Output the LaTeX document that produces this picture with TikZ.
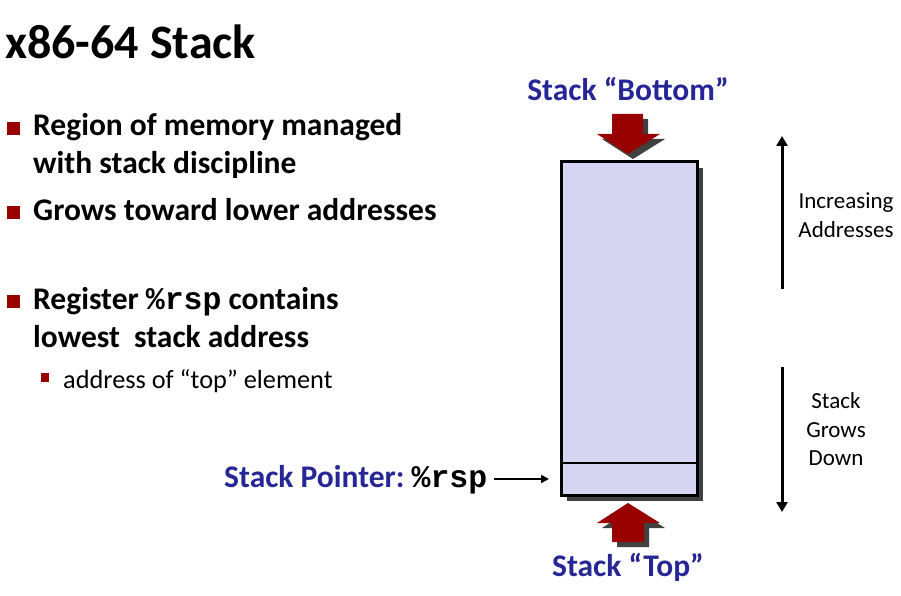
\documentclass[tikz,border=0pt]{standalone}
\usepackage{fontspec}
\setmainfont{Carlito}
\newfontfamily\mono{Liberation Mono}
\usetikzlibrary{arrows.meta}
\definecolor{bred}{RGB}{153,0,0}
\definecolor{sblue}{RGB}{38,38,150}
\definecolor{lav}{RGB}{214,214,242}
\definecolor{shd}{RGB}{64,64,64}
\begin{document}
\begin{tikzpicture}[x=1pt,y=-1pt,
  txt/.style={inner sep=0pt, anchor=base west},
  titlef/.style={txt, font=\fontsize{48}{54}\selectfont\bfseries},
  mainf/.style={txt, font=\fontsize{31.5}{36}\selectfont\bfseries},
  subf/.style={txt, font=\fontsize{26.3}{30}\selectfont},
  bluef/.style={inner sep=0pt, anchor=base, text=sblue, font=\fontsize{31.5}{36}\selectfont\bfseries},
  sidef/.style={inner sep=0pt, anchor=base, font=\fontsize{23}{28}\selectfont},
  bul/.style={fill=bred},
  stackbox/.style={draw=black, line width=3pt, fill=lav},
  shadow/.style={fill=shd},
  blockarrow/.style={fill=bred},
  longarrow/.style={line width=3pt, -{Triangle[length=10pt,width=11pt]}},
  ptrarrow/.style={line width=1.8pt, -{Triangle[length=8pt,width=8pt]}}
]
\useasboundingbox[fill=white] (0,0) rectangle (901,596);

% title
\node[titlef] (title) at (5,59) {x86-64 Stack};

% bullets
\fill[bul] (7,122) rectangle (20,135);
\node[mainf] (b1a) at (33,136) {Region of memory managed};
\node[mainf] (b1b) at (33,173) {with stack discipline};
\fill[bul] (7,206) rectangle (20,219);
\node[mainf] (b2) at (33,220) {Grows toward lower addresses};
\fill[bul] (7,295) rectangle (20,308);
\node[mainf] (b3a) at (33,309) {Register {\mono\bfseries \%rsp} contains};
\node[mainf] (b3b) at (33,347) {lowest\hspace{0.22em} stack address};
\fill[bul] (41,373) rectangle (49,382);
\node[subf] (b4) at (63,388) {address of “top” element};

% stack box shadow and box
\fill[shadow] (567,168) rectangle (703,501);
\filldraw[stackbox] (561,162) rectangle (697,495);
\node[inner sep=0pt] (stk) at (629,328.5) {};
\draw[line width=2pt] (561,463) -- (697,463);

% bottom arrow (down)
\fill[shadow] (617,119) -- (648,119) -- (648,139) -- (665,139) -- (633,159) -- (602,139) -- (617,139) -- cycle;
\fill[blockarrow] (612,114) -- (643,114) -- (643,134) -- (660,134) -- (628,154) -- (597,134) -- (612,134) -- cycle;
\node[bluef] (bot) at (628,101) {Stack “Bottom”};

% top arrow (up)
\fill[shadow] (617,547) -- (649,547) -- (649,528) -- (665,528) -- (633,508) -- (602,528) -- (617,528) -- cycle;
\fill[blockarrow] (612,542) -- (644,542) -- (644,523) -- (660,523) -- (628,503) -- (597,523) -- (612,523) -- cycle;
\node[bluef] (top) at (628,576) {Stack “Top”};

% stack pointer
\node[txt, text=sblue, font=\fontsize{31.5}{36}\selectfont\bfseries] (sp) at (224,487) {Stack Pointer:\ {\mono\bfseries\textcolor{black}{\%rsp}}};
\coordinate (spEnd) at (549,479);
\draw[ptrarrow] (sp.east |- spEnd) ++(7,0) -- (spEnd);

% right side arrows
\coordinate (upS) at (782,289);
\coordinate (upE) at (782,136);
\draw[longarrow] (upS) -- (upE);
\node[sidef] (inc1) at (846,208) {Increasing};
\node[sidef] (inc2) at (846,237) {Addresses};

\coordinate (dnS) at (782,367);
\coordinate (dnE) at (782,512);
\draw[longarrow] (dnS) -- (dnE);
\node[sidef] (g1) at (836,408) {Stack};
\node[sidef] (g2) at (836,437) {Grows};
\node[sidef] (g3) at (836,465) {Down};
\end{tikzpicture}
\end{document}
